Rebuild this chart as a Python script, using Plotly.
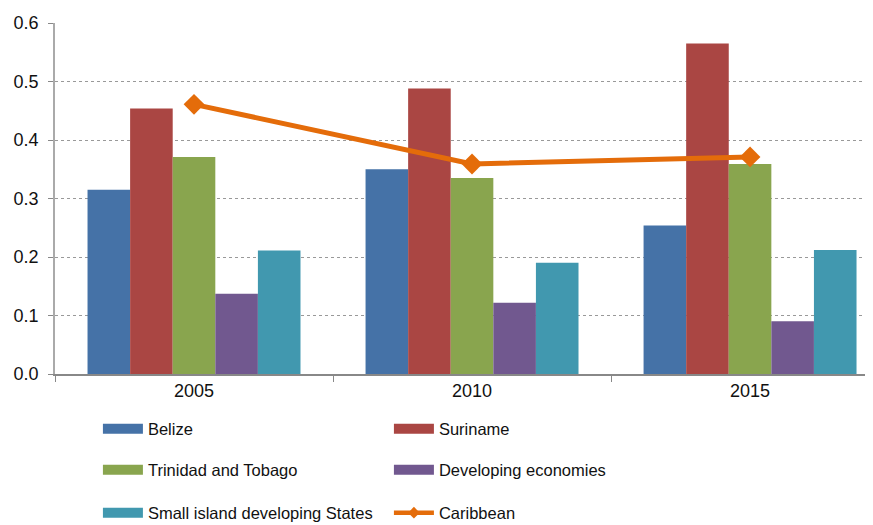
import plotly.graph_objects as go

years = ["2005", "2010", "2015"]
belize = [0.315, 0.350, 0.254]
suriname = [0.454, 0.488, 0.565]
trinidad = [0.371, 0.335, 0.359]
developing = [0.137, 0.122, 0.090]
sids = [0.211, 0.190, 0.212]
caribbean = [0.461, 0.359, 0.371]

bar_series = [
    ("Belize", belize, "#4572A7"),
    ("Suriname", suriname, "#AA4643"),
    ("Trinidad and Tobago", trinidad, "#89A54E"),
    ("Developing economies", developing, "#71588F"),
    ("Small island developing States", sids, "#4198AF"),
]
orange = "#E46C0A"

fig = go.Figure()

# bars (legend handled by dummy line traces so symbols look like wide strips)
for name, vals, col in bar_series:
    fig.add_trace(go.Bar(x=years, y=vals, name=name, marker_color=col,
                         marker_line_width=0, showlegend=False))

fig.add_trace(go.Scatter(x=years, y=caribbean, name="Caribbean", mode="lines+markers",
                         line=dict(color=orange, width=5),
                         marker=dict(symbol="diamond", size=16, color=orange),
                         showlegend=False))

legend_names = ["legend", "legend2", "legend3"]
items = [(n, c, False) for n, _, c in bar_series] + [("Caribbean", orange, True)]
for i, (name, col, is_line) in enumerate(items):
    lg = legend_names[i // 2]
    if is_line:
        fig.add_trace(go.Scatter(x=[None], y=[None], name=name, mode="lines+markers",
                                 line=dict(color=col, width=4.5),
                                 marker=dict(symbol="diamond", size=9, color=col),
                                 legend=lg))
    else:
        fig.add_trace(go.Scatter(x=[None], y=[None], name=name, mode="lines",
                                 line=dict(color=col, width=10), legend=lg))

# page body has an 8px margin, so positions below are offset by that
legend_rows_y = [421, 462, 505]
leg_common = dict(orientation="h", xref="container", yref="container",
                  x=0.103, xanchor="left", yanchor="middle",
                  font=dict(family="Liberation Sans, Arial", size=16.5, color="#111"),
                  entrywidth=236, entrywidthmode="pixels", itemwidth=40,
                  bgcolor="rgba(0,0,0,0)", traceorder="normal")
layout_legends = {}
for lg, yy in zip(legend_names, legend_rows_y):
    layout_legends[lg] = dict(leg_common, y=1 - yy / 525)

fig.update_layout(
    width=873, height=525,
    margin=dict(l=47, r=0, t=15, b=159, autoexpand=False),
    paper_bgcolor="white", plot_bgcolor="white",
    barmode="group", bargap=0.234, bargroupgap=0,
    font=dict(family="Liberation Sans, Arial", size=18, color="#111"),
    showlegend=True,
    xaxis=dict(type="category", range=[-0.5, 2.471], tickson="boundaries",
               ticks="outside", ticklen=6, tickcolor="#888",
               showline=True, linecolor="#888", linewidth=1.5,
               showgrid=False, tickfont=dict(size=18)),
    yaxis=dict(range=[0, 0.6], dtick=0.1, tickformat=".1f",
               ticks="outside", ticklen=5, tickcolor="#888", ticklabelstandoff=6,
               showline=True, linecolor="#aaa", linewidth=1.5,
               showgrid=True, gridcolor="#999", griddash="dot", gridwidth=1,
               zeroline=False, tickfont=dict(size=18)),
    **layout_legends,
)

fig.write_html("out.html")
